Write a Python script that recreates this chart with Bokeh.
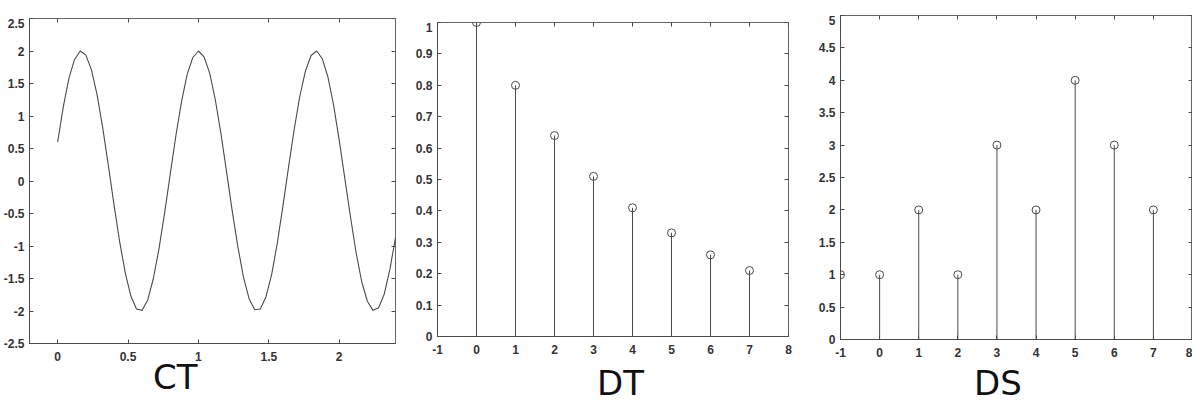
from bokeh.plotting import figure
from bokeh.layouts import row, column
from bokeh.models import Range1d, FixedTicker, LinearAxis, Div, Spacer
from bokeh.embed import file_html
from bokeh.resources import INLINE

# ---- CT panel: continuous-time signal ----
ct_t = [0.00, 0.04, 0.08, 0.12, 0.16, 0.20, 0.24, 0.28, 0.32, 0.36,
        0.40, 0.44, 0.48, 0.52, 0.56, 0.60, 0.64, 0.68, 0.72, 0.76,
        0.80, 0.84, 0.88, 0.92, 0.96, 1.00, 1.04, 1.08, 1.12, 1.16,
        1.20, 1.24, 1.28, 1.32, 1.36, 1.40, 1.44, 1.48, 1.52, 1.56,
        1.60, 1.64, 1.68, 1.72, 1.76, 1.80, 1.84, 1.88, 1.92, 1.96,
        2.00, 2.04, 2.08, 2.12, 2.16, 2.20, 2.24, 2.28, 2.32, 2.36, 2.40]
ct_y = [0.60, 1.14, 1.58, 1.87, 2.00, 1.94, 1.71, 1.33, 0.82, 0.24,
        -0.36, -0.93, -1.41, -1.77, -1.97, -1.99, -1.83, -1.50, -1.04, -0.49,
        0.11, 0.70, 1.22, 1.64, 1.90, 2.00, 1.91, 1.66, 1.25, 0.73,
        0.14, -0.46, -1.01, -1.48, -1.81, -1.98, -1.97, -1.78, -1.44, -0.96,
        -0.39, 0.21, 0.79, 1.30, 1.69, 1.93, 2.00, 1.88, 1.60, 1.17,
        0.63, 0.04, -0.55, -1.10, -1.55, -1.85, -1.99, -1.95, -1.74, -1.36, -0.87]
ct_xticks = [0, 0.5, 1, 1.5, 2]
ct_xlabels = ["0", "0.5", "1", "1.5", "2"]
ct_yticks = [-2.5, -2, -1.5, -1, -0.5, 0, 0.5, 1, 1.5, 2, 2.5]
ct_ylabels = ["-2.5", "-2", "-1.5", "-1", "-0.5", "0", "0.5", "1", "1.5", "2", "2.5"]

# ---- DT panel: decaying discrete-time sequence ----
dt_n = [0, 1, 2, 3, 4, 5, 6, 7]
dt_v = [1.0, 0.80, 0.64, 0.51, 0.41, 0.33, 0.26, 0.21]
dt_xticks = [-1, 0, 1, 2, 3, 4, 5, 6, 7, 8]
dt_xlabels = ["-1", "0", "1", "2", "3", "4", "5", "6", "7", "8"]
dt_yticks = [0, 0.1, 0.2, 0.3, 0.4, 0.5, 0.6, 0.7, 0.8, 0.9, 1]
dt_ylabels = ["0", "0.1", "0.2", "0.3", "0.4", "0.5", "0.6", "0.7", "0.8", "0.9", "1"]

# ---- DS panel: digital sequence ----
ds_n = [-1, 0, 1, 2, 3, 4, 5, 6, 7]
ds_v = [1, 1, 2, 1, 3, 2, 4, 3, 2]
ds_xticks = [-1, 0, 1, 2, 3, 4, 5, 6, 7, 8]
ds_xlabels = ["-1", "0", "1", "2", "3", "4", "5", "6", "7", "8"]
ds_yticks = [0, 0.5, 1, 1.5, 2, 2.5, 3, 3.5, 4, 4.5, 5]
ds_ylabels = ["0", "0.5", "1", "1.5", "2", "2.5", "3", "3.5", "4", "4.5", "5"]

panel_titles = ["CT", "DT", "DS"]

INK = "#4a4a4a"
FONT = "Liberation Sans"


def style_axis(ax, ticks, labels, standoff, show=True):
    ax.ticker = FixedTicker(ticks=ticks)
    if show:
        ax.major_label_overrides = dict(zip(ticks, labels))
    else:
        ax.major_label_overrides = {t: "" for t in ticks}
    ax.major_tick_in = 4
    ax.major_tick_out = 0
    ax.minor_tick_line_color = None
    ax.major_tick_line_color = INK
    ax.axis_line_color = INK if show else None
    ax.major_label_standoff = standoff
    ax.major_label_text_font = FONT
    ax.major_label_text_font_size = "12px"
    ax.major_label_text_font_style = "bold"
    ax.major_label_text_color = "#333333"


def make_fig(fw, fh, bl, br, xr, yr, xt, xl, yt, yl):
    p = figure(frame_width=fw, frame_height=fh,
               min_border_left=bl, min_border_right=br,
               min_border_top=0, min_border_bottom=0,
               x_range=Range1d(*xr), y_range=Range1d(*yr),
               toolbar_location=None, output_backend="svg")
    p.grid.visible = False
    p.outline_line_color = "#666666"
    p.outline_line_width = 1
    p.background_fill_color = "white"
    p.border_fill_color = "white"
    style_axis(p.xaxis[0], xt, xl, 8)
    style_axis(p.yaxis[0], yt, yl, 5)
    top = LinearAxis()
    style_axis(top, xt, xl, 0, show=False)
    p.add_layout(top, "above")
    right = LinearAxis()
    style_axis(right, yt, yl, 0, show=False)
    p.add_layout(right, "right")
    return p


def caption(text, pad_left, pad_top, height):
    html = ('<div style="padding-left:%dpx;padding-top:%dpx;'
            'font-family:\'DejaVu Sans\';font-size:34px;line-height:28px;'
            'color:#111111;white-space:nowrap;">%s</div>') % (pad_left, pad_top, text)
    return Div(text=html, width=300, height=height, margin=(0, 0, 0, 0))


# CT
p1 = make_fig(366, 325, 22, 17, (-0.2, 2.4), (-2.5, 2.5),
              ct_xticks, ct_xlabels, ct_yticks, ct_ylabels)
p1.line(ct_t, ct_y, line_color=INK, line_width=1.1, line_join="round")

# DT
p2 = make_fig(351, 314, 25, 22, (-1, 8), (0, 1),
              dt_xticks, dt_xlabels, dt_yticks, dt_ylabels)
p2.segment(x0=dt_n, y0=[0] * len(dt_n), x1=dt_n, y1=dt_v,
           line_color=INK, line_width=1)
p2.scatter(dt_n, dt_v, marker="circle", size=8, fill_color=None,
           line_color=INK, line_width=1)

# DS
p3 = make_fig(352, 324, 30, 0, (-1, 8), (0, 5),
              ds_xticks, ds_xlabels, ds_yticks, ds_ylabels)
p3.segment(x0=ds_n, y0=[0] * len(ds_n), x1=ds_n, y1=ds_v,
           line_color=INK, line_width=1)
p3.scatter(ds_n, ds_v, marker="circle", size=8, fill_color=None,
           line_color=INK, line_width=1)

c1 = column(Spacer(height=18, width=10), p1, caption(panel_titles[0], 153, 0, 30),
            spacing=0)
c2 = column(Spacer(height=22, width=10), p2, caption(panel_titles[1], 185, 13, 41),
            spacing=0)
c3 = column(Spacer(height=15, width=10), p3, caption(panel_titles[2], 164, 10, 38),
            spacing=0)

layout = row(c1, c2, c3, spacing=0)
open("out.html", "w").write(file_html(layout, INLINE))
